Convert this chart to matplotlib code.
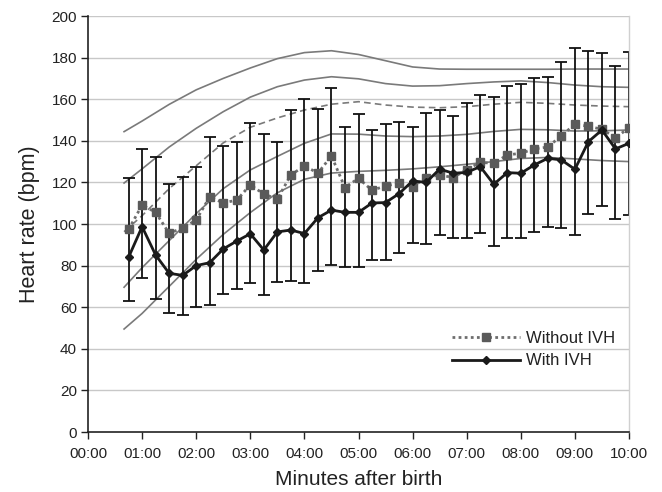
import matplotlib
matplotlib.use("Agg")
import matplotlib.pyplot as plt
import numpy as np

plt.rcParams['font.family'] = ['Liberation Sans', 'DejaVu Sans']

# Time points of the two series (seconds after birth)
times_s = [45, 60, 75, 90, 105, 120, 135, 150, 165, 180, 195, 210, 225, 240,
           255, 270, 285, 300, 315, 330, 345, 360, 375, 390, 405, 420, 435,
           450, 465, 480, 495, 510, 525, 540, 555, 570, 585, 600]

without_ivh = [97.4, 109.1, 105.6, 95.5, 98.1, 101.9, 113.1, 110.1, 111.5, 118.8,
               114.4, 112.0, 123.6, 127.9, 124.5, 132.7, 117.5, 122.0, 116.2, 118.3,
               119.6, 117.9, 122.3, 123.6, 122.3, 126.2, 129.6, 129.2, 133.2, 134.0,
               136.1, 137.0, 142.5, 147.9, 147.0, 145.5, 141.5, 146.2]
without_upper = [122.0, 135.9, 132.0, 119.0, 122.4, 127.3, 141.7, 137.5, 139.3, 148.4,
                 143.1, 139.6, 154.8, 159.9, 155.1, 165.5, 146.5, 152.7, 145.0, 147.9,
                 149.2, 146.8, 153.2, 154.8, 152.1, 158.0, 161.8, 161.2, 166.2, 167.1,
                 170.0, 170.9, 177.7, 184.8, 183.3, 182.0, 176.1, 182.5]

with_ivh = [84.0, 98.7, 85.1, 76.3, 75.3, 80.0, 81.4, 88.0, 91.8, 95.3,
            87.5, 96.2, 97.1, 95.4, 103.0, 106.7, 105.6, 105.6, 110.1, 110.3,
            114.6, 120.7, 120.0, 126.4, 124.4, 124.8, 127.6, 119.1, 124.7, 124.4,
            128.4, 131.6, 130.8, 126.3, 139.6, 145.2, 136.1, 138.8]
with_lower = [63.0, 73.9, 63.8, 57.0, 56.1, 59.9, 60.9, 66.2, 68.6, 71.6,
              65.7, 72.1, 72.4, 71.5, 77.2, 80.1, 79.2, 79.2, 82.7, 82.7,
              85.9, 90.7, 90.2, 94.6, 93.1, 93.5, 95.5, 89.3, 93.1, 93.1,
              96.0, 98.4, 97.9, 94.6, 104.7, 108.5, 102.3, 104.2]

# Reference percentile curves
pct_times_s = [40, 60, 90, 120, 150, 180, 210, 240, 270, 300,
               330, 360, 390, 420, 450, 480, 510, 540, 570, 600]
p_top = [144.4, 149.5, 157.5, 164.5, 170.0, 175.0, 179.5, 182.4, 183.3, 181.5,
         178.5, 175.5, 174.5, 174.4, 174.4, 174.4, 174.4, 174.5, 174.5, 174.5]
p_upper = [119.7, 126.5, 137.0, 146.0, 154.0, 161.0, 166.0, 169.2, 170.8, 169.8,
           167.5, 166.3, 166.5, 167.5, 168.3, 168.8, 168.0, 166.8, 166.0, 165.7]
p_median = [96.3, 104.0, 117.0, 128.0, 139.0, 146.5, 151.0, 154.8, 157.6, 158.8,
            157.2, 156.2, 155.9, 156.4, 157.6, 158.5, 158.0, 157.2, 156.7, 156.4]
p_lower = [69.6, 79.0, 92.0, 105.0, 117.0, 126.0, 132.5, 138.8, 143.3, 143.2,
           142.3, 142.0, 142.3, 143.1, 144.5, 145.5, 145.3, 144.7, 144.8, 145.2]
p_bottom = [49.5, 57.0, 70.0, 83.0, 95.0, 105.5, 115.0, 121.5, 124.5, 125.3,
            125.8, 126.5, 127.5, 128.7, 130.0, 131.5, 132.0, 131.3, 130.5, 130.0]

x_tick_labels = ["00:00", "01:00", "02:00", "03:00", "04:00", "05:00",
                 "06:00", "07:00", "08:00", "09:00", "10:00"]
y_ticks = [0, 20, 40, 60, 80, 100, 120, 140, 160, 180, 200]

t = np.array(times_s) / 60.0
tp = np.array(pct_times_s) / 60.0

fig = plt.figure(figsize=(6.62, 4.92), dpi=100)
ax = fig.add_axes([88/662, 1-432/492, (629-88)/662, (432-16)/492])

# grid
for y in y_ticks[1:]:
    ax.axhline(y, color='#c8c8c8', lw=1.0, zorder=0)

pc = '#7a7a7a'
for curve in (p_top, p_upper, p_lower, p_bottom):
    ax.plot(tp, curve, color=pc, lw=1.2, zorder=1)
ax.plot(tp, p_median, color=pc, lw=1.2, ls=(0, (4, 2.5)), zorder=1)

# error bars
ax.vlines(t, with_lower, without_upper, color='#111111', lw=1.3, zorder=2)
ax.plot(t, without_upper, ls='none', marker='_', markersize=9, mew=1.3, color='#111111', zorder=2)
ax.plot(t, with_lower, ls='none', marker='_', markersize=9, mew=1.3, color='#111111', zorder=2)

ax.plot(t, without_ivh, color='#6e6e6e', lw=2.0, ls=(0, (1, 1.2)), marker='s',
        markersize=5.2, markerfacecolor='#5a5a5a', markeredgecolor='#5a5a5a',
        label='Without IVH', zorder=3)
ax.plot(t, with_ivh, color='#1a1a1a', lw=2.0, ls='-', marker='D',
        markersize=4, markerfacecolor='#1a1a1a', markeredgecolor='#1a1a1a',
        label='With IVH', zorder=4)

ax.set_xlim(0, 10)
ax.set_ylim(0, 200)
ax.set_xticks(range(11))
ax.set_xticklabels(x_tick_labels)
ax.set_yticks(y_ticks)
ax.tick_params(axis='both', labelsize=11, length=5, width=1, color='#222222', labelcolor='#222222')
ax.tick_params(axis='x', pad=6)
ax.tick_params(axis='y', pad=3)

ax.spines['top'].set_visible(False)
ax.spines['right'].set_color('#d0d0d0')
ax.spines['right'].set_linewidth(1.0)
for s in ('left', 'bottom'):
    ax.spines[s].set_color('#222222')
    ax.spines[s].set_linewidth(1.2)

ax.set_xlabel('Minutes after birth', fontsize=15, color='#222222', labelpad=6)
ax.set_ylabel('Heart rate (bpm)', fontsize=15.5, color='#222222', labelpad=8)

leg = ax.legend(loc='center left', bbox_to_anchor=(0.673, 0.198), frameon=False,
                fontsize=12, handlelength=4.1, handletextpad=0.35, borderpad=0,
                borderaxespad=0, labelspacing=0.45, numpoints=1)
for txt in leg.get_texts():
    txt.set_color('#222222')

fig.savefig('out.png', dpi=100)
